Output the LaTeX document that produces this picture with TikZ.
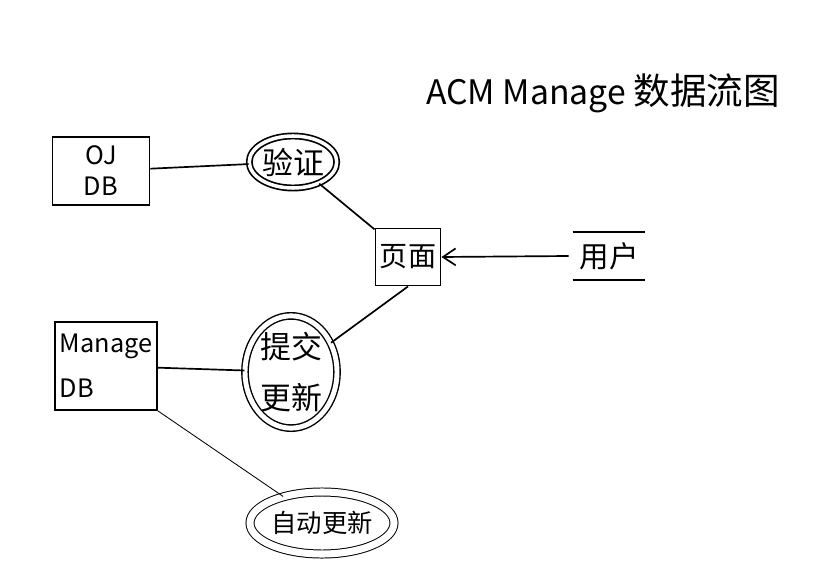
\documentclass[tikz,border=0pt]{standalone}
\usepackage{fontspec}
\setmainfont{Noto Sans CJK SC}
\usetikzlibrary{shapes.geometric,arrows.meta}
\begin{document}
\begin{tikzpicture}[x=0.025cm,y=-0.025cm,
    box/.style={draw,line width=1.2pt,inner sep=2pt},
    proc/.style={ellipse,draw,line width=1pt,double,double distance=2.5pt,inner sep=0pt},
    store/.style={inner sep=0pt,minimum width=1.8cm,minimum height=1.2cm}]
  \useasboundingbox (0,0) rectangle (832,576);
  \draw
    (603,93) node (title){\fontsize{24}{28}\selectfont ACM Manage \fontsize{26}{28}\selectfont 数据流图}
    (101,171) node[box,minimum width=2.43cm,minimum height=1.7cm,align=center,font=\fontsize{18}{22}\selectfont] (ojdb){OJ\\DB}
    (293,162) node[proc,line width=1.2pt,minimum width=2.05cm,minimum height=1.3cm,font=\fontsize{22}{26}\selectfont] (yz){验证}
    (408,257) node[box,minimum width=1.63cm,minimum height=1.43cm,font=\fontsize{20}{24}\selectfont] (ym){页面}
    (609,256) node[store,font=\fontsize{21}{24}\selectfont] (yh){用户}
    (106,366) node[box,minimum width=2.55cm,minimum height=2.2cm,align=left,font=\fontsize{18}{32}\selectfont] (mdb){Manage\\DB}
    (291,372) node[proc,double distance=3.5pt,minimum width=2.3cm,minimum height=2.6cm,align=center,font=\fontsize{22}{36}\selectfont] (tj){提交\\更新}
    (322,523) node[proc,line width=0.7pt,double distance=5pt,minimum width=3.6cm,minimum height=1.55cm,font=\fontsize{18}{20}\selectfont] (zd){自动更新};
  \begin{scope}[line width=1.2pt]
    \draw (yh.north west) -- (yh.north east);
    \draw (yh.south west) -- (yh.south east);
    \draw (ojdb) to (yz);
    \draw (yz) to (ym);
    \draw[-{Straight Barb[length=9pt,width=12pt]}] ([xshift=-0.1cm]yh.west) to (ym.east);
    \draw (ym.south) to (tj);
    \draw (mdb) to (tj);
    \draw[line width=0.6pt] (mdb.south east) to (zd);
  \end{scope}
\end{tikzpicture}
\end{document}
